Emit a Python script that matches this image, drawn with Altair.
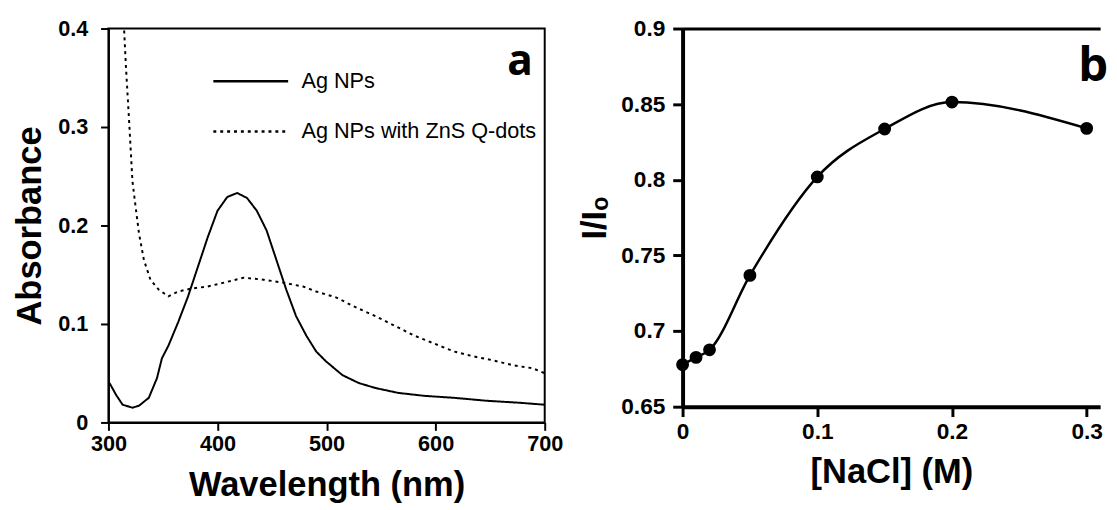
import altair as alt
import pandas as pd

# ---------------- data ----------------
series_names = ["Ag NPs", "Ag NPs with ZnS Q-dots"]

wl_ag = [301, 307, 313, 322, 328, 337, 344.5, 349, 355, 364, 373, 382, 391, 400,
         409, 418, 427, 436, 445, 454, 463, 472, 481.5, 490.5, 499.5, 514.6,
         529.6, 544.7, 565.7, 589.8, 617, 647, 677, 700]
abs_ag = [0.040, 0.028, 0.018, 0.015, 0.017, 0.025, 0.045, 0.065, 0.078, 0.102,
          0.128, 0.158, 0.188, 0.215, 0.229, 0.233, 0.228, 0.215, 0.195, 0.165,
          0.135, 0.108, 0.088, 0.072, 0.062, 0.048, 0.040, 0.035, 0.030, 0.027,
          0.025, 0.022, 0.020, 0.018]

wl_zns = [314.4, 316, 319, 322, 325, 328, 332.5, 338.5, 346, 355, 364, 376, 391,
          406, 424, 442, 460, 478.5, 490.5, 508.6, 526.6, 544.7, 562.8, 580.8,
          598.9, 617, 635, 653, 671, 689, 700]
abs_zns = [0.398, 0.362, 0.305, 0.245, 0.218, 0.192, 0.165, 0.145, 0.135, 0.128,
           0.133, 0.136, 0.138, 0.142, 0.147, 0.145, 0.142, 0.138, 0.133, 0.127,
           0.117, 0.108, 0.098, 0.088, 0.080, 0.072, 0.067, 0.063, 0.058, 0.055,
           0.050]

nacl = [0, 0.01, 0.02, 0.05, 0.1, 0.15, 0.2, 0.3]
ratio = [0.6778, 0.6826, 0.6876, 0.7368, 0.8019, 0.8336, 0.8514, 0.8340]

x_ticks_a = [300, 400, 500, 600, 700]
y_ticks_a = [0, 0.1, 0.2, 0.3, 0.4]
x_ticks_b = [0, 0.1, 0.2, 0.3]
y_ticks_b = [0.65, 0.7, 0.75, 0.8, 0.85, 0.9]
panel_labels = ["a", "b"]

# ---------------- tables ----------------
spec_df = pd.concat([
    pd.DataFrame({"wl": wl_ag, "A": abs_ag, "series": series_names[0]}),
    pd.DataFrame({"wl": wl_zns, "A": abs_zns, "series": series_names[1]}),
], ignore_index=True)
nacl_df = pd.DataFrame({"c": nacl, "r": ratio})

FONT = "Liberation Sans"

# ---------------- panel a ----------------
axis_a_common = dict(grid=False, domainColor="black", domainWidth=2, tickColor="black",
                     tickWidth=2, tickSize=8, labelFont=FONT, labelFontSize=22,
                     labelFontWeight="bold", labelColor="black", titleFont=FONT,
                     titleFontSize=35, titleFontWeight="bold", titleColor="black",
                     labelFlush=False)

lines_a = alt.Chart(spec_df).mark_line(color="black", strokeWidth=2).encode(
    x=alt.X("wl:Q", scale=alt.Scale(domain=[300, 700], nice=False, zero=False),
            axis=alt.Axis(values=x_ticks_a, title="Wavelength (nm)", format="d",
                          labelPadding=3, titlePadding=14, **axis_a_common)),
    y=alt.Y("A:Q", scale=alt.Scale(domain=[0, 0.4], nice=False),
            axis=alt.Axis(values=y_ticks_a, title="Absorbance", format="~g",
                          labelPadding=13, titlePadding=10, **axis_a_common)),
    strokeDash=alt.StrokeDash(
        "series:N",
        scale=alt.Scale(domain=series_names, range=[[1, 0], [3, 4]]),
        legend=alt.Legend(title=None, orient="none", legendX=105, legendY=14,
                          symbolType="stroke", symbolSize=5776, symbolStrokeWidth=2.5,
                          symbolStrokeColor="black", labelFont=FONT, labelFontSize=22,
                          labelColor="black", labelOffset=12, rowPadding=-17,
                          labelLimit=600),
    ),
    detail="series:N",
)

label_a = alt.Chart(pd.DataFrame({"t": [panel_labels[0]]})).mark_text(
    font="Open Sans", fontSize=43, fontWeight="bold", color="black",
    align="center", baseline="alphabetic"
).encode(text="t:N", x=alt.value(418), y=alt.value(47))

panel_a = alt.layer(lines_a, label_a).properties(
    width=443, height=400,
    view=alt.ViewBackground(stroke="black", strokeWidth=2),
)

# ---------------- panel b ----------------
axis_b_common = dict(grid=False, domainColor="black", domainWidth=4, tickColor="black",
                     tickWidth=3, tickSize=10, labelFont=FONT, labelFontSize=23,
                     labelFontWeight="bold", labelColor="black", titleFont=FONT,
                     titleFontSize=35, titleFontWeight="bold", titleColor="black",
                     labelFlush=False)

xs_b = alt.Scale(domain=[0, 0.31], nice=False, zero=False)
ys_b = alt.Scale(domain=[0.65, 0.9], nice=False, zero=False)
y_axis_b = alt.Axis(values=y_ticks_b, title="I/Iₒ", format="~g", labelPadding=8,
                    titlePadding=9, **axis_b_common)

line_b = alt.Chart(nacl_df).mark_line(color="black", strokeWidth=2.5,
                                      interpolate="monotone").encode(
    x=alt.X("c:Q", scale=xs_b,
            axis=alt.Axis(values=x_ticks_b, title="[NaCl] (M)", format="~g",
                          labelPadding=4, titlePadding=12, **axis_b_common)),
    y=alt.Y("r:Q", scale=ys_b, axis=y_axis_b),
)

points_b = alt.Chart(nacl_df).mark_circle(color="black", opacity=1, size=170).encode(
    x=alt.X("c:Q", scale=xs_b,
            axis=alt.Axis(orient="top", labels=False, ticks=False, title=None,
                          grid=False, domainColor="black", domainWidth=3)),
    y=alt.Y("r:Q", scale=ys_b, axis=y_axis_b),
)

label_b = alt.Chart(pd.DataFrame({"t": [panel_labels[1]]})).mark_text(
    font="Open Sans", fontSize=48, fontWeight="bold", color="black",
    align="center", baseline="alphabetic"
).encode(text="t:N", x=alt.value(417), y=alt.value(53))

panel_b = alt.layer(line_b, points_b, label_b).resolve_axis(x="independent").properties(
    width=424, height=384,
    view=alt.ViewBackground(stroke="transparent"),
)

chart = alt.hconcat(panel_a, panel_b, spacing=12).properties(
    padding={"left": 4, "top": 5, "right": 0, "bottom": 0},
    background="white",
)

chart.save("out.html", embed_options={"renderer": "svg", "actions": False})
